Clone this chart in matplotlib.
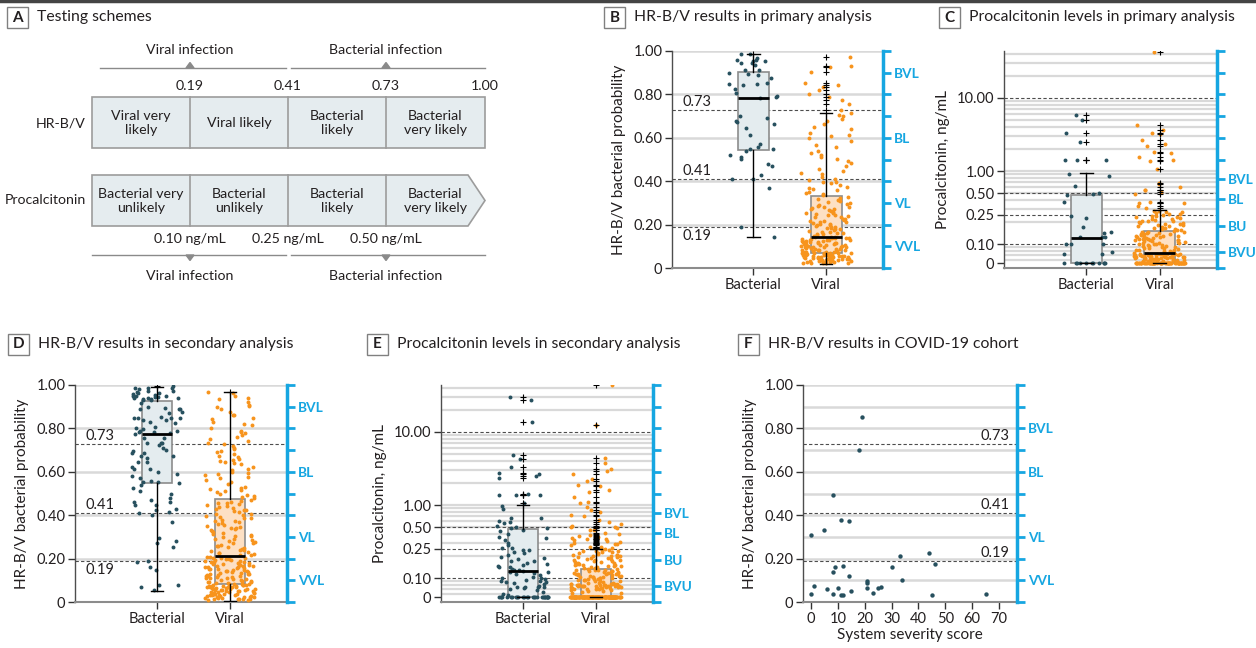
import matplotlib
matplotlib.use('Agg')
import matplotlib.pyplot as plt
from matplotlib.patches import Rectangle, Polygon
from matplotlib.ticker import NullLocator
import numpy as np

plt.rcParams['font.family'] = ['Lato', 'DejaVu Sans']

# ---------------- data ----------------
categories = ['Bacterial', 'Viral']
hrbv_cut_labels = ['0.19', '0.41', '0.73', '1.00']
hrbv_cells = ['Viral very\nlikely', 'Viral likely', 'Bacterial\nlikely', 'Bacterial\nvery likely']
pct_cells = ['Bacterial very\nunlikely', 'Bacterial\nunlikely', 'Bacterial\nlikely', 'Bacterial\nvery likely']
pct_cut_labels = ['0.10 ng/mL', '0.25 ng/mL', '0.50 ng/mL']
hrbv_thresholds = [0.73, 0.41, 0.19]
pct_thresholds = [0.10, 0.25, 0.50, 10.0]

# B: HR-B/V primary
hrbv_bact_pri = [0.985, 0.988, 0.958, 0.955, 0.96, 0.946, 0.952, 0.943, 0.935, 0.90, 0.89, 0.914,
                 0.893, 0.874, 0.911, 0.85, 0.853, 0.85, 0.845, 0.823, 0.808, 0.793, 0.785, 0.787,
                 0.699, 0.691, 0.676, 0.664, 0.673, 0.647, 0.611, 0.571, 0.559, 0.548, 0.55, 0.539,
                 0.521, 0.513, 0.504, 0.478, 0.469, 0.429, 0.409, 0.41, 0.37, 0.187, 0.144, 0.97]
hrbv_viral_pri = [
    0.021, 0.034, 0.052, 0.043, 0.061, 0.028, 0.067, 0.048, 0.025, 0.039, 0.058, 0.031, 0.055, 0.069,
    0.044, 0.023, 0.063, 0.050, 0.036, 0.041, 0.066, 0.059, 0.047, 0.033, 0.026, 0.038, 0.057, 0.070,
    0.053, 0.030, 0.045, 0.062, 0.049, 0.024, 0.068, 0.035, 0.042, 0.060, 0.054, 0.065, 0.032, 0.040,
    0.022, 0.064, 0.051, 0.046, 0.069, 0.029, 0.056, 0.052, 0.037, 0.027, 0.066, 0.058, 0.044,
    0.072, 0.081, 0.095, 0.110, 0.124, 0.138, 0.076, 0.089, 0.102, 0.117, 0.131, 0.143, 0.079, 0.093,
    0.106, 0.121, 0.135, 0.074, 0.086, 0.099, 0.113, 0.128, 0.141, 0.083, 0.097, 0.108, 0.119, 0.133,
    0.071, 0.091, 0.104, 0.115, 0.126, 0.139, 0.078, 0.087, 0.101, 0.112, 0.123, 0.136, 0.084, 0.096,
    0.109, 0.118, 0.130, 0.144, 0.075, 0.090, 0.103, 0.116, 0.127, 0.140, 0.082, 0.098, 0.122,
    0.148, 0.162, 0.175, 0.190, 0.205, 0.221, 0.238, 0.255, 0.270, 0.288, 0.305, 0.322, 0.155, 0.168,
    0.183, 0.197, 0.212, 0.228, 0.246, 0.262, 0.279, 0.296, 0.314, 0.151, 0.171, 0.186, 0.201, 0.216,
    0.233, 0.250, 0.266, 0.283, 0.300, 0.318, 0.158, 0.178, 0.193, 0.209, 0.225, 0.242, 0.258, 0.275,
    0.292, 0.310, 0.327, 0.165, 0.181, 0.199, 0.218, 0.235, 0.253, 0.272, 0.161, 0.188, 0.214,
    0.335, 0.342, 0.351, 0.358, 0.367, 0.374, 0.383, 0.391, 0.398, 0.405, 0.412, 0.421, 0.433, 0.447,
    0.458, 0.470, 0.484, 0.495, 0.503, 0.512, 0.528, 0.541, 0.556, 0.568, 0.583, 0.597, 0.612, 0.624,
    0.639, 0.651, 0.662, 0.676, 0.688, 0.699, 0.705, 0.714, 0.73, 0.758, 0.774, 0.789, 0.80, 0.82,
    0.832, 0.845, 0.851, 0.905, 0.928, 0.932, 0.974, 0.345, 0.362, 0.395, 0.438, 0.52, 0.61]
box_hrbv_pri = {'Bacterial': (0.141, 0.544, 0.785, 0.902, 0.985),
                'Viral': (0.02, 0.07, 0.145, 0.33, 0.715)}

# C: procalcitonin primary (0 = undetectable)
pct_bact_pri_zero_count = 11
pct_bact_pri = [5.0, 5.9, 3.35, 2.5, 1.4, 1.4, 1.43, 0.92, 0.85, 0.62, 0.5, 0.48, 0.47, 0.38, 0.24,
                0.23, 0.17, 0.14, 0.145, 0.125, 0.125, 0.1, 0.125, 0.1, 0.1, 0.078, 0.074, 0.074]
pct_viral_pri_zero_count = 60
pct_viral_pri = [
    0.058, 0.062, 0.066, 0.07, 0.073, 0.06, 0.064, 0.068, 0.072, 0.075, 0.059, 0.063, 0.067, 0.071,
    0.074, 0.061, 0.065, 0.069, 0.073, 0.057, 0.062, 0.066, 0.07, 0.074, 0.06, 0.064, 0.068, 0.072,
    0.058, 0.063, 0.067, 0.071, 0.075, 0.061, 0.065, 0.069, 0.073, 0.059, 0.064, 0.068, 0.072, 0.062,
    0.066, 0.07, 0.074, 0.06, 0.067, 0.071, 0.063, 0.069,
    0.078, 0.083, 0.088, 0.094, 0.1, 0.106, 0.112, 0.118, 0.124, 0.13, 0.137, 0.144, 0.08, 0.086,
    0.091, 0.097, 0.103, 0.109, 0.115, 0.121, 0.127, 0.134, 0.141, 0.148, 0.079, 0.084, 0.09, 0.096,
    0.102, 0.108, 0.114, 0.12, 0.126, 0.132, 0.139, 0.146, 0.081, 0.087, 0.093, 0.099, 0.105, 0.111,
    0.117, 0.123, 0.129, 0.136, 0.143, 0.082, 0.089, 0.095, 0.101, 0.113, 0.119, 0.131, 0.15,
    0.155, 0.162, 0.17, 0.178, 0.186, 0.195, 0.204, 0.214, 0.225, 0.237, 0.25, 0.264, 0.279, 0.158,
    0.166, 0.174, 0.182, 0.19, 0.2, 0.209, 0.219, 0.231, 0.244, 0.258, 0.272, 0.286, 0.16, 0.168,
    0.18, 0.193, 0.207, 0.222, 0.24, 0.26, 0.283,
    43.0, 4.3, 3.3, 3.6, 3.2, 2.65, 2.2, 2.35, 1.78, 1.83, 1.56, 1.36, 1.4, 1.08, 0.67, 0.68, 0.55,
    0.55, 0.51, 0.49, 0.6, 0.36, 0.38, 0.36, 0.33, 0.31]
box_pct_pri = {'Bacterial': (0.0, 0.0, 0.122, 0.47, 0.95),
               'Viral': (0.0, 0.0, 0.075, 0.151, 0.29)}

# D: HR-B/V secondary
hrbv_bact_sec = [
    0.98, 0.97, 0.972, 0.988, 0.997, 0.988, 0.985, 0.974, 0.957, 0.962, 0.946, 0.942, 0.945, 0.942,
    0.95, 0.962, 0.954, 0.95, 0.95, 0.942, 0.935, 0.935, 0.93, 0.93, 0.918, 0.9, 0.89, 0.89, 0.877,
    0.892, 0.888, 0.854, 0.839, 0.831, 0.846, 0.839, 0.85, 0.85, 0.87, 0.85, 0.823, 0.808, 0.803,
    0.797, 0.788, 0.777, 0.773, 0.782, 0.782, 0.788, 0.757, 0.754, 0.731, 0.731, 0.723, 0.731, 0.708,
    0.70, 0.696, 0.688, 0.674, 0.685, 0.673, 0.662, 0.647, 0.644, 0.624, 0.613, 0.601, 0.611, 0.588,
    0.58, 0.57, 0.558, 0.555, 0.551, 0.55, 0.539, 0.524, 0.513, 0.50, 0.48, 0.47, 0.462, 0.459, 0.447,
    0.447, 0.427, 0.412, 0.40, 0.424, 0.413, 0.37, 0.281, 0.293, 0.27, 0.252, 0.189, 0.186, 0.163,
    0.147, 0.078, 0.078, 0.071, 0.055]
hrbv_viral_sec = [
    0.012, 0.025, 0.041, 0.058, 0.073, 0.018, 0.034, 0.049, 0.066, 0.081, 0.009, 0.028, 0.045, 0.061,
    0.077, 0.015, 0.031, 0.053, 0.069, 0.084, 0.021, 0.038, 0.056, 0.072, 0.011, 0.027, 0.043, 0.063,
    0.079, 0.016, 0.035, 0.051, 0.068, 0.083, 0.023, 0.040, 0.059, 0.075, 0.013, 0.030, 0.047, 0.064,
    0.080, 0.019, 0.037, 0.054, 0.071, 0.026, 0.044, 0.062, 0.078, 0.014, 0.033, 0.050, 0.067, 0.082,
    0.022, 0.039, 0.057, 0.074, 0.017, 0.036, 0.052, 0.070, 0.060,
    0.088, 0.096, 0.105, 0.114, 0.123, 0.132, 0.141, 0.150, 0.159, 0.168, 0.177, 0.186, 0.195, 0.204,
    0.091, 0.100, 0.109, 0.118, 0.127, 0.136, 0.145, 0.154, 0.163, 0.172, 0.181, 0.190, 0.199, 0.208,
    0.093, 0.102, 0.111, 0.120, 0.129, 0.138, 0.147, 0.156, 0.165, 0.174, 0.183, 0.192, 0.201, 0.087,
    0.098, 0.107, 0.116, 0.125, 0.134, 0.143, 0.152, 0.161, 0.170, 0.179, 0.188, 0.197, 0.206, 0.094,
    0.112, 0.131, 0.149, 0.167, 0.185, 0.119, 0.158, 0.176, 0.203,
    0.215, 0.228, 0.241, 0.256, 0.270, 0.285, 0.299, 0.313, 0.328, 0.342, 0.357, 0.371, 0.386, 0.400,
    0.415, 0.429, 0.444, 0.458, 0.471, 0.221, 0.235, 0.249, 0.263, 0.278, 0.292, 0.306, 0.321, 0.335,
    0.350, 0.364, 0.379, 0.393, 0.407, 0.422, 0.437, 0.451, 0.465, 0.218, 0.232, 0.246, 0.260, 0.274,
    0.289, 0.303, 0.317, 0.332, 0.346, 0.361, 0.375, 0.389, 0.404, 0.418, 0.433, 0.447, 0.462, 0.225,
    0.252, 0.281, 0.310, 0.339, 0.368, 0.397, 0.426, 0.455, 0.238,
    0.48, 0.49, 0.50, 0.51, 0.52, 0.53, 0.545, 0.56, 0.575, 0.59, 0.60, 0.61, 0.62, 0.635, 0.65, 0.66,
    0.67, 0.68, 0.695, 0.71, 0.72, 0.735, 0.75, 0.76, 0.77, 0.785, 0.80, 0.815, 0.83, 0.845, 0.86,
    0.875, 0.89, 0.905, 0.92, 0.935, 0.95, 0.965, 0.485, 0.505, 0.525, 0.555, 0.585, 0.615, 0.645,
    0.675, 0.705, 0.74, 0.78, 0.82, 0.86, 0.90, 0.94, 0.495, 0.57, 0.64, 0.69, 0.73, 0.79, 0.85,
    0.91, 0.515, 0.595, 0.655, 0.97]
box_hrbv_sec = {'Bacterial': (0.049, 0.547, 0.776, 0.926, 0.992),
                'Viral': (0.006, 0.085, 0.21, 0.474, 0.969)}

# E: procalcitonin secondary
pct_bact_sec_zero_count = 28
pct_bact_sec = [
    0.06, 0.076, 0.076, 0.076, 0.076, 0.07, 0.088, 0.088, 0.09, 0.1, 0.1, 0.065, 0.072, 0.082, 0.095,
    0.105, 0.11, 0.118, 0.122, 0.068, 0.085, 0.092, 0.098, 0.112, 0.12, 0.058, 0.079,
    0.13, 0.135, 0.14, 0.14, 0.15, 0.13, 0.125, 0.17, 0.17, 0.196, 0.19, 0.22, 0.24, 0.24, 0.23, 0.26,
    0.26, 0.33, 0.37, 0.145, 0.16, 0.18, 0.21, 0.28, 0.3, 0.35, 0.4, 0.44, 0.155,
    30.6, 27.0, 13.9, 4.3, 4.9, 3.3, 2.48, 2.72, 2.67, 2.32, 1.41, 1.39, 1.39, 1.36, 0.97, 1.05, 0.87,
    0.67, 0.67, 0.59, 0.6, 0.56, 0.52, 0.46, 0.48, 0.5, 0.48]
pct_viral_sec_zero_count = 150
pct_viral_sec = [
    0.062, 0.068, 0.072, 0.075, 0.078, 0.08, 0.082, 0.085, 0.07, 0.074, 0.077, 0.079, 0.081, 0.083,
    0.066, 0.071, 0.076, 0.079, 0.08, 0.084, 0.064, 0.073, 0.077, 0.08, 0.082, 0.069, 0.075, 0.078,
    0.081, 0.086, 0.067, 0.072, 0.076, 0.079, 0.083, 0.07, 0.074, 0.078, 0.08, 0.082, 0.063, 0.071,
    0.077, 0.081, 0.085, 0.09, 0.095, 0.1, 0.105, 0.11, 0.115, 0.12, 0.125, 0.13, 0.092, 0.097, 0.102,
    0.108, 0.113, 0.118, 0.123, 0.128, 0.094, 0.099, 0.104, 0.111, 0.117, 0.122, 0.127, 0.131, 0.088,
    0.096, 0.101, 0.107, 0.114, 0.119, 0.126, 0.091, 0.098, 0.106, 0.112, 0.121, 0.129, 0.093, 0.103,
    0.135, 0.14, 0.145, 0.15, 0.156, 0.162, 0.168, 0.175, 0.182, 0.19, 0.198, 0.206, 0.215, 0.224,
    0.233, 0.242, 0.138, 0.143, 0.148, 0.153, 0.159, 0.165, 0.171, 0.178, 0.186, 0.194, 0.202, 0.21,
    0.219, 0.228, 0.238, 0.247, 0.136, 0.146, 0.157, 0.169, 0.181, 0.193, 0.205, 0.218, 0.231, 0.245,
    0.151, 0.174, 0.2,
    43.6, 12.6, 4.4, 3.8, 3.1, 2.9, 2.7, 2.3, 2.1, 1.9, 1.8, 1.6, 1.5, 1.3, 1.1, 1.05, 0.95, 0.85, 0.8,
    0.72, 0.7, 0.62, 0.58, 0.55, 0.52, 0.5, 0.5, 0.48, 0.46, 0.45, 0.42, 0.4, 0.39, 0.38, 0.36, 0.35,
    0.34, 0.33, 0.32, 0.31, 0.3, 0.29, 0.29, 0.28, 0.27, 0.27, 0.26, 0.26, 0.34, 0.3]
box_pct_sec = {'Bacterial': (0.0, 0.0, 0.124, 0.47, 1.0),
               'Viral': (0.0, 0.0, 0.0, 0.132, 0.25)}

# F: COVID-19 cohort
covid_severity = [0, 0, 1, 5, 6, 8, 8, 8, 9, 10, 11, 11, 12, 12, 14, 14, 15, 18, 19, 21, 21, 21,
                  23, 25, 26, 30, 33, 34, 44, 46, 45, 65]
covid_prob = [0.308, 0.035, 0.074, 0.331, 0.058, 0.495, 0.138, 0.038, 0.16, 0.065, 0.377, 0.031,
              0.168, 0.032, 0.372, 0.12, 0.052, 0.70, 0.854, 0.097, 0.089, 0.066, 0.042, 0.063,
              0.071, 0.16, 0.212, 0.10, 0.228, 0.174, 0.031, 0.035]

# ---------------- style ----------------
W, H = 1256, 648
BACT = '#27505e'
VIR = '#f7941d'
BLUE = '#16a6e1'
BOXB = '#e4ecef'
BOXV = '#fde0c4'
GRID = '#d9d9d9'
DASH = '#4d4d4d'
TXT = '#231f20'
FS = 10.5      # tick labels
FSR = 9.8      # right-axis category labels
FSA = 10.2     # panel A text
FST = 11.3     # panel titles
FSL = 11       # axis labels
ZERO = 0.055   # display position of undetectable (0) procalcitonin on log axis

fig = plt.figure(figsize=(W / 100, H / 100), dpi=100)
bg = fig.add_axes([0, 0, 1, 1])
bg.set_xlim(0, W)
bg.set_ylim(H, 0)
bg.axis('off')
bg.plot([0, W], [1, 1], color='#444444', lw=2.5)


def panel_label(x0, yc, letter, title):
    bg.add_patch(Rectangle((x0, yc - 10.5), 21, 21, fill=False, ec='#808080', lw=1))
    bg.text(x0 + 10.5, yc + 0.5, letter, ha='center', va='center', fontsize=11,
            fontweight='bold', color=TXT)
    bg.text(x0 + 30, yc, title, ha='left', va='center', fontsize=FST, color=TXT)


panel_label(7, 17.5, 'A', 'Testing schemes')
panel_label(604, 17.5, 'B', 'HR-B/V results in primary analysis')
panel_label(939, 17.5, 'C', 'Procalcitonin levels in primary analysis')
panel_label(8, 344, 'D', 'HR-B/V results in secondary analysis')
panel_label(367, 344, 'E', 'Procalcitonin levels in secondary analysis')
panel_label(738, 344, 'F', 'HR-B/V results in COVID-19 cohort')

# ---------------- panel A ----------------
xs = [92, 190, 288, 386, 485]
centers = [(xs[i] + xs[i + 1]) / 2 for i in range(4)]
LINE = '#8a8a8a'
for xa, xb in [(100, 286), (291, 485)]:
    bg.plot([xa, xb], [68, 68], color=LINE, lw=1)
for xa, xb in [(92, 286), (291, 485)]:
    bg.plot([xa, xb], [255, 255], color=LINE, lw=1)
for xc, lab in zip([190, 386], ['Viral infection', 'Bacterial infection']):
    bg.add_patch(Polygon([(xc - 4, 68), (xc + 4, 68), (xc, 62.5)], color=LINE))
    bg.text(xc, 50, lab, ha='center', va='center', fontsize=FSA, color=TXT)
    bg.add_patch(Polygon([(xc - 4, 255), (xc + 4, 255), (xc, 260.5)], color=LINE))
    bg.text(xc, 276, lab, ha='center', va='center', fontsize=FSA, color=TXT)
for xc, lab in zip(xs[1:], hrbv_cut_labels):
    bg.text(xc, 86, lab, ha='center', va='center', fontsize=FSA, color=TXT)
for xc, lab in zip(xs[1:4], pct_cut_labels):
    bg.text(xc, 239, lab, ha='center', va='center', fontsize=FSA, color=TXT)

CELL_FC = '#e5ecef'
CELL_EC = '#9c9c9c'
bg.add_patch(Rectangle((92, 97), 485 - 92, 51, fc=CELL_FC, ec=CELL_EC, lw=1.2))
bg.add_patch(Polygon([(92, 175), (468, 175), (485, 200.5), (468, 226), (92, 226)],
                     closed=True, fc=CELL_FC, ec=CELL_EC, lw=1.2))
for xc in xs[1:4]:
    bg.plot([xc, xc], [97, 148], color=CELL_EC, lw=1.2)
    bg.plot([xc, xc], [175, 226], color=CELL_EC, lw=1.2)
for xc, lab in zip(centers, hrbv_cells):
    bg.text(xc, 123, lab, ha='center', va='center', fontsize=FSA, color=TXT, linespacing=1.2)
for xc, lab in zip(centers, pct_cells):
    bg.text(xc, 201, lab, ha='center', va='center', fontsize=FSA, color=TXT, linespacing=1.2)
bg.text(86, 123, 'HR-B/V', ha='right', va='center', fontsize=FSA, color=TXT)
bg.text(86, 200, 'Procalcitonin', ha='right', va='center', fontsize=FSA, color=TXT)


# ---------------- helpers ----------------
def make_ax(l, t, r, b):
    return fig.add_axes([l / W, 1 - b / H, (r - l) / W, (b - t) / H])


def style_axes(ax):
    for s in ['top', 'right']:
        ax.spines[s].set_visible(False)
    ax.spines['left'].set_color('#4d4d4d')
    ax.spines['left'].set_linewidth(1)
    ax.spines['bottom'].set_color('#8c8c8c')
    ax.spines['bottom'].set_linewidth(1.5)
    ax.tick_params(axis='both', length=5, width=1, color='#333333', labelsize=FS,
                   labelcolor=TXT, pad=2)
    ax.patch.set_alpha(0)


def right_axis(ax, ticks, labels):
    r = ax.twinx()
    r.set_ylim(0, 1)
    r.set_yticks(ticks)
    r.set_yticklabels(labels)
    for s in ['top', 'left', 'bottom']:
        r.spines[s].set_visible(False)
    r.spines['right'].set_color(BLUE)
    r.spines['right'].set_linewidth(2.5)
    r.tick_params(axis='y', colors=BLUE, length=6, width=2, labelsize=FSR, pad=2)
    for t in r.get_yticklabels():
        t.set_fontweight('bold')
    return r


def jitter(n, seed, half=0.35):
    i = np.arange(n)
    f = np.modf(np.abs(np.sin((i + 1) * 12.9898 + seed * 78.233)) * 43758.5453)[0]
    return (f - 0.5) * 2 * half


def draw_group(ax, pos, values, stats, face, color, seed, tf=lambda v: v, med_under=False):
    vals = np.asarray(values, dtype=float)
    lo, q1, med, q3, hi = stats
    fl = [tf(v) for v in vals if v > hi]
    st = [dict(whislo=tf(lo), q1=tf(q1), med=tf(med), q3=tf(q3), whishi=tf(hi), fliers=fl)]
    res = ax.bxp(st, positions=[pos], widths=0.42, capwidths=0.17, patch_artist=True,
                 showfliers=True,
                 boxprops=dict(facecolor=face, edgecolor='#8c8c8c', linewidth=1.2, zorder=2),
                 whiskerprops=dict(color='black', linewidth=1, zorder=4),
                 capprops=dict(color='black', linewidth=1, zorder=4),
                 medianprops=dict(color='black', linewidth=2,
                                  zorder=2.5 if med_under else 4),
                 flierprops=dict(marker='+', markeredgecolor='black', markersize=5,
                                 markeredgewidth=0.8, linestyle='none', zorder=5))
    yv = np.array([tf(v) for v in vals])
    ax.scatter(pos + jitter(len(yv), seed), yv, s=8, c=color, linewidths=0, zorder=3)
    return res


def hrbv_panel(ax, bact, viral, box, seeds):
    style_axes(ax)
    ax.set_ylim(0, 1)
    ax.set_xlim(-0.12, 2.78)
    for g in [0.2, 0.4, 0.6, 0.8, 1.0]:
        ax.axhline(g, color=GRID, lw=1.8, zorder=0.5)
    for t in hrbv_thresholds:
        ax.axhline(t, color=DASH, lw=0.8, ls=(0, (3, 2)), zorder=1)
    tr = ax.get_yaxis_transform()
    ax.text(0.05, 0.735, '0.73', transform=tr, ha='left', va='bottom', fontsize=FS, color=TXT)
    ax.text(0.05, 0.415, '0.41', transform=tr, ha='left', va='bottom', fontsize=FS, color=TXT)
    ax.text(0.05, 0.178, '0.19', transform=tr, ha='left', va='top', fontsize=FS, color=TXT)
    draw_group(ax, 1, bact, box['Bacterial'], BOXB, BACT, seeds[0])
    draw_group(ax, 2, viral, box['Viral'], BOXV, VIR, seeds[1])
    ax.set_xticks([1, 2])
    ax.set_xticklabels(categories)
    ax.set_yticks([0, 0.2, 0.4, 0.6, 0.8, 1.0])
    ax.set_yticklabels(['0', '0.20', '0.40', '0.60', '0.80', '1.00'])
    ax.set_ylabel('HR-B/V bacterial probability', fontsize=FSL, color=TXT, labelpad=5)
    right_axis(ax, [i / 10 for i in range(11)],
               ['', 'VVL', '', 'VL', '', '', 'BL', '', '', 'BVL', ''])


def zt(v):
    return ZERO if v <= 0 else v


def pct_panel(ax, bact, bzero, viral, vzero, box, seeds):
    style_axes(ax)
    ax.set_yscale('log')
    ax.set_ylim(0.047, 44)
    ax.set_xlim(-0.12, 2.78)
    grid_vals = [0.06, 0.07, 0.08, 0.09, 0.2, 0.3, 0.4, 0.5, 0.6, 0.7, 0.8, 0.9, 1, 2, 3, 4, 5,
                 6, 7, 8, 9, 20, 30, 40]
    for g in grid_vals:
        ax.axhline(g, color=GRID, lw=1.6, zorder=0.5)
    for t in pct_thresholds:
        ax.axhline(t, color=DASH, lw=0.8, ls=(0, (3, 2)), zorder=1)
    draw_group(ax, 1, list(bact) + [0.0] * bzero, box['Bacterial'], BOXB, BACT, seeds[0], tf=zt)
    draw_group(ax, 2, list(viral) + [0.0] * vzero, box['Viral'], BOXV, VIR, seeds[1], tf=zt,
               med_under=box['Viral'][2] <= 0)
    ax.set_xticks([1, 2])
    ax.set_xticklabels(categories)
    ax.yaxis.set_minor_locator(NullLocator())
    ax.set_yticks([ZERO, 0.1, 0.25, 0.5, 1, 10])
    ax.set_yticklabels(['0', '0.10', '0.25', '0.50', '1.00', '10.00'])
    ax.set_ylabel('Procalcitonin, ng/mL', fontsize=FSL, color=TXT, labelpad=5)
    right_axis(ax, [0, 0.073, 0.195, 0.32, 0.41, 0.5, 0.6, 0.7, 0.8, 0.9, 1.0],
               ['', 'BVU', 'BU', 'BL', 'BVL', '', '', '', '', '', ''])


# ---------------- panels B-E ----------------
axB = make_ax(672, 51, 883, 268)
hrbv_panel(axB, hrbv_bact_pri, hrbv_viral_pri, box_hrbv_pri, (1, 2))

axC = make_ax(1004, 51, 1217, 268)
pct_panel(axC, pct_bact_pri, pct_bact_pri_zero_count, pct_viral_pri, pct_viral_pri_zero_count,
          box_pct_pri, (3, 4))

axD = make_ax(75, 385, 287, 602)
hrbv_panel(axD, hrbv_bact_sec, hrbv_viral_sec, box_hrbv_sec, (5, 6))

axE = make_ax(441, 385, 653, 602)
pct_panel(axE, pct_bact_sec, pct_bact_sec_zero_count, pct_viral_sec, pct_viral_sec_zero_count,
          box_pct_sec, (7, 8))

# ---------------- panel F ----------------
axF = make_ax(803, 385, 1017, 602)
style_axes(axF)
axF.set_ylim(0, 1)
axF.set_xlim(-3, 76.7)
for g in [i / 10 for i in range(1, 11)]:
    axF.axhline(g, color=GRID, lw=1.8, zorder=0.5)
for t in hrbv_thresholds:
    axF.axhline(t, color=DASH, lw=0.8, ls=(0, (3, 2)), zorder=1)
    axF.text(0.963, t + 0.005, f'{t:.2f}', transform=axF.get_yaxis_transform(), ha='right',
             va='bottom', fontsize=FS, color=TXT)
axF.scatter(covid_severity, covid_prob, s=10, c=BACT, linewidths=0, zorder=3)
axF.set_xticks(range(0, 71, 10))
axF.set_yticks([0, 0.2, 0.4, 0.6, 0.8, 1.0])
axF.set_yticklabels(['0', '0.20', '0.40', '0.60', '0.80', '1.00'])
axF.set_ylabel('HR-B/V bacterial probability', fontsize=FSL, color=TXT, labelpad=5)
axF.set_xlabel('System severity score', fontsize=FSL, color=TXT, labelpad=2)
right_axis(axF, [i / 10 for i in range(11)],
           ['', 'VVL', '', 'VL', '', '', 'BL', '', 'BVL', '', ''])

fig.savefig('out.png', dpi=100)
